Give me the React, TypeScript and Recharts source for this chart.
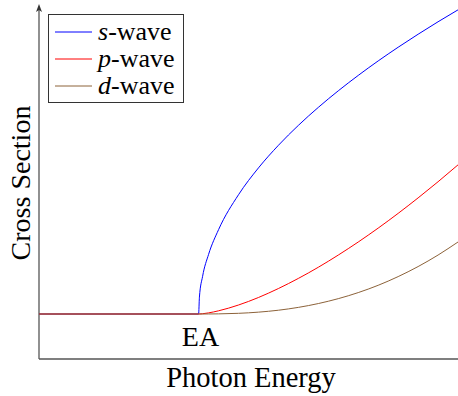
import { LineChart, Line, XAxis, YAxis, Legend, ReferenceLine } from 'recharts';

// photon energy (arb. units), threshold EA at 4
const ENERGY = [0, 4, 4.02, 4.1, 4.25, 4.5, 5, 5.5, 6, 6.5, 7, 7.5, 8, 8.5, 9, 9.5, 10, 10.5];

const S_WAVE = [1, 1, 1.375, 1.838, 2.326, 2.875, 3.651, 4.247, 4.749, 5.192, 5.592, 5.96, 6.302, 6.624, 6.928, 7.217, 7.494, 7.759];
const P_WAVE = [1, 1, 1.001, 1.006, 1.025, 1.071, 1.2, 1.367, 1.566, 1.791, 2.039, 2.31, 2.6, 2.909, 3.236, 3.58, 3.939, 4.314];
const D_WAVE = [1, 1, 1, 1, 1.001, 1.003, 1.015, 1.041, 1.084, 1.147, 1.232, 1.341, 1.476, 1.638, 1.831, 2.054, 2.31, 2.6];

const SERIES = [
  { key: 's', letter: 's', color: '#0000ff' },
  { key: 'p', letter: 'p', color: '#ff0000' },
  { key: 'd', letter: 'd', color: '#8c6239' },
];

const FONT = '"Liberation Serif", "Times New Roman", serif';
const AXIS = '#555';

const data = ENERGY.map((e, i) => ({ e, s: S_WAVE[i], p: P_WAVE[i], d: D_WAVE[i] }));

function LegendBox() {
  return (
    <div
      style={{
        border: '1px solid #333',
        background: '#fff',
        padding: '3px 8px 3px 6px',
        fontFamily: FONT,
        fontSize: 26,
        color: '#000',
        lineHeight: 1,
      }}
    >
      {SERIES.map((s) => (
        <div key={s.key} style={{ display: 'flex', alignItems: 'center', height: 27 }}>
          <svg width={37} height={4} style={{ marginRight: 6 }}>
            <line x1={0} y1={2} x2={37} y2={2} stroke={s.color} strokeWidth={1} />
          </svg>
          <span>
            <i>{s.letter}</i>-wave
          </span>
        </div>
      ))}
    </div>
  );
}

export default function App() {
  return (
    <div style={{ position: 'absolute', left: 0, top: 0, width: 458, height: 396, background: '#fff' }}>
      <LineChart width={458} height={396} data={data} margin={{ top: 8, right: 0, left: 39, bottom: 37 }}>
        <XAxis dataKey="e" type="number" domain={[0, 10.5]} allowDataOverflow hide />
        <YAxis type="number" domain={[0, 7.8]} allowDataOverflow hide />
        <ReferenceLine y={0} stroke={AXIS} strokeWidth={1.3} />
        <ReferenceLine x={0} stroke={AXIS} strokeWidth={1.3} />
        {SERIES.map((s) => (
          <Line
            key={s.key}
            dataKey={s.key}
            type="monotone"
            stroke={s.color}
            strokeWidth={1}
            dot={false}
            isAnimationActive={false}
          />
        ))}
        <Legend
          verticalAlign="middle"
          align="center"
          content={() => <LegendBox />}
          wrapperStyle={{ left: 48, top: 14, width: 'auto' }}
        />
      </LineChart>
      <svg
        width={458}
        height={396}
        style={{ position: 'absolute', left: 0, top: 0, pointerEvents: 'none' }}
      >
        <path d="M39 4 L36 12 L39 10 L42 12 Z" fill="#333" />
        <text x={200.5} y={346} textAnchor="middle" fontFamily={FONT} fontSize={28}>
          EA
        </text>
        <text x={251} y={387} textAnchor="middle" fontFamily={FONT} fontSize={28.5}>
          Photon Energy
        </text>
        <text
          x={29.5}
          y={183}
          textAnchor="middle"
          fontFamily={FONT}
          fontSize={28}
          transform="rotate(-90 29.5 183)"
        >
          Cross Section
        </text>
      </svg>
    </div>
  );
}
